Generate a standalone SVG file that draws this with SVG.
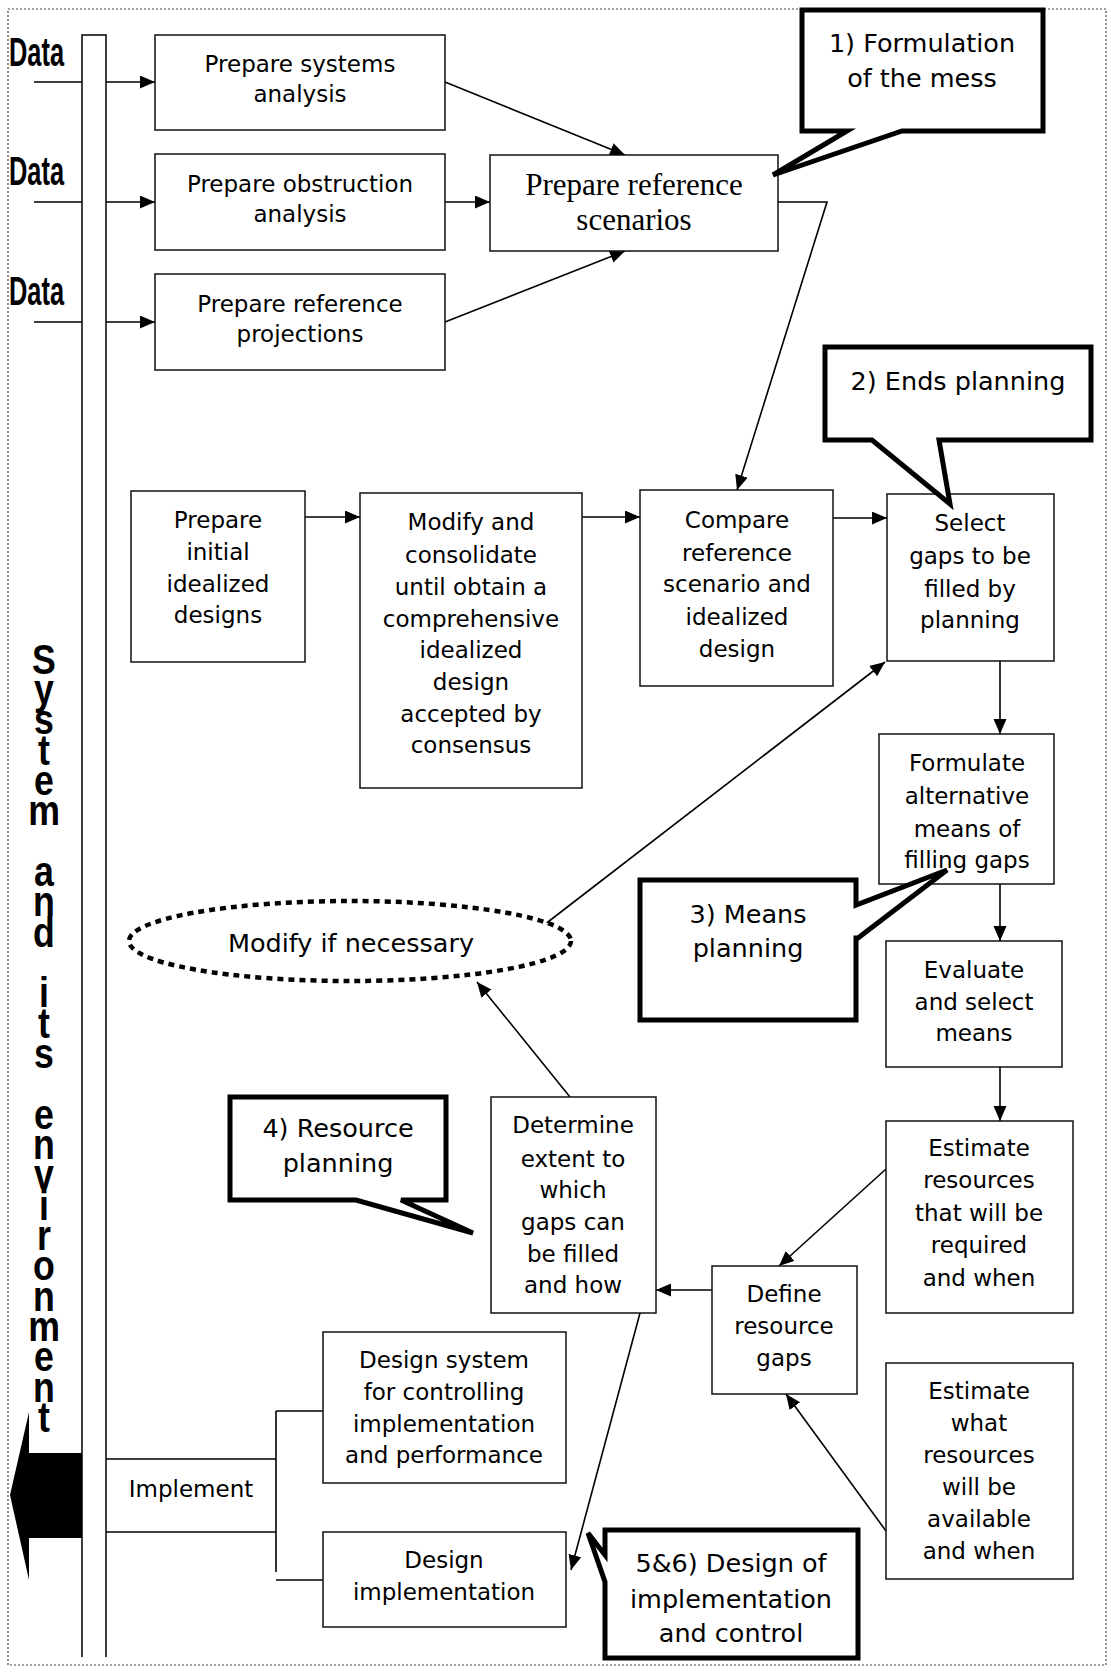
<svg xmlns="http://www.w3.org/2000/svg" width="1111" height="1673" viewBox="0 0 1111 1673">
<style>
.box{fill:#fff;stroke:#111;stroke-width:1.5}
.call{fill:#fff;stroke:#000;stroke-width:5;stroke-linejoin:miter}
.conn{stroke:#000;stroke-width:1.6;fill:none}
.t{font-family:"DejaVu Sans",Verdana,sans-serif;font-size:23px;text-anchor:middle;fill:#000}
.tc{font-size:25.5px}
.serif{font-family:"Liberation Serif","Times New Roman",serif;font-size:31px;text-anchor:middle;fill:#000}
.data{font-family:"Liberation Sans",Arial,sans-serif;font-weight:bold;font-size:41px;fill:#000}
.vert{font-family:"Liberation Sans",Arial,sans-serif;font-weight:bold;font-size:42px;fill:#000;writing-mode:vertical-rl;text-orientation:upright;letter-spacing:-16px}
</style>
<defs>
<marker id="ah" markerUnits="userSpaceOnUse" markerWidth="16" markerHeight="14" refX="15" refY="6.5" orient="auto"><path d="M0,0 L15,6.5 L0,13 z" fill="#000"/></marker>
</defs>
<rect x="0" y="0" width="1111" height="1673" fill="#fff"/>
<rect x="8" y="9" width="1098" height="1656" fill="none" stroke="#444" stroke-width="1.2" stroke-dasharray="2 2"/>

<g id="system-bar">
<path d="M82,1657 V35 H106 V1657" fill="none" stroke="#000" stroke-width="1.5"/>
<polygon points="82,1453 29,1453 29,1412 10,1495 29,1580 29,1538 82,1538" fill="#000"/>
<g transform="translate(44 0) scale(0.85 1)">
<text class="vert" x="0" y="636">System and its environment</text>
</g>
</g>

<g id="data-labels">
<text class="data" x="9" y="66" textLength="55" lengthAdjust="spacingAndGlyphs">Data</text>
<text class="data" x="9" y="185" textLength="55" lengthAdjust="spacingAndGlyphs">Data</text>
<text class="data" x="9" y="305" textLength="55" lengthAdjust="spacingAndGlyphs">Data</text>
</g>

<g id="connectors">
<line class="conn" x1="34" y1="82" x2="82" y2="82"/>
<line class="conn" x1="106" y1="82" x2="155" y2="82" marker-end="url(#ah)"/>
<line class="conn" x1="34" y1="202" x2="82" y2="202"/>
<line class="conn" x1="106" y1="202" x2="155" y2="202" marker-end="url(#ah)"/>
<line class="conn" x1="34" y1="322" x2="82" y2="322"/>
<line class="conn" x1="106" y1="322" x2="155" y2="322" marker-end="url(#ah)"/>
<line class="conn" x1="445" y1="82" x2="625" y2="155" marker-end="url(#ah)"/>
<line class="conn" x1="445" y1="202" x2="490" y2="202" marker-end="url(#ah)"/>
<line class="conn" x1="445" y1="322" x2="625" y2="251" marker-end="url(#ah)"/>
<polyline class="conn" points="778,202 827,202 737,490" marker-end="url(#ah)"/>
<line class="conn" x1="305" y1="517" x2="360" y2="517" marker-end="url(#ah)"/>
<line class="conn" x1="582" y1="517" x2="640" y2="517" marker-end="url(#ah)"/>
<line class="conn" x1="833" y1="518" x2="887" y2="518" marker-end="url(#ah)"/>
<line class="conn" x1="1000" y1="661" x2="1000" y2="734" marker-end="url(#ah)"/>
<line class="conn" x1="1000" y1="884" x2="1000" y2="941" marker-end="url(#ah)"/>
<line class="conn" x1="1000" y1="1067" x2="1000" y2="1121" marker-end="url(#ah)"/>
<line class="conn" x1="886" y1="1169" x2="779" y2="1266" marker-end="url(#ah)"/>
<line class="conn" x1="886" y1="1531" x2="786" y2="1394" marker-end="url(#ah)"/>
<line class="conn" x1="712" y1="1290" x2="656" y2="1290" marker-end="url(#ah)"/>
<line class="conn" x1="570" y1="1097" x2="477" y2="982" marker-end="url(#ah)"/>
<line class="conn" x1="544" y1="925" x2="885" y2="662" marker-end="url(#ah)"/>
<line class="conn" x1="640" y1="1313" x2="571" y2="1570" marker-end="url(#ah)"/>
<line class="conn" x1="106" y1="1459" x2="276" y2="1459"/>
<line class="conn" x1="106" y1="1532" x2="276" y2="1532"/>
<line class="conn" x1="276" y1="1411" x2="276" y2="1572"/>
<line class="conn" x1="276" y1="1411" x2="323" y2="1411"/>
<line class="conn" x1="276" y1="1580" x2="323" y2="1580"/>
</g>

<g id="prepare-systems-analysis">
<rect class="box" x="155" y="35" width="290" height="95"/>
<text class="t" x="300" y="72">Prepare systems</text>
<text class="t" x="300" y="102">analysis</text>
</g>
<g id="prepare-obstruction-analysis">
<rect class="box" x="155" y="154" width="290" height="96"/>
<text class="t" x="300" y="192">Prepare obstruction</text>
<text class="t" x="300" y="222">analysis</text>
</g>
<g id="prepare-reference-projections">
<rect class="box" x="155" y="274" width="290" height="96"/>
<text class="t" x="300" y="312">Prepare reference</text>
<text class="t" x="300" y="342">projections</text>
</g>
<g id="prepare-reference-scenarios">
<rect class="box" x="490" y="155" width="288" height="96"/>
<text class="serif" x="634" y="195">Prepare reference</text>
<text class="serif" x="634" y="230">scenarios</text>
</g>
<g id="prepare-initial">
<rect class="box" x="131" y="491" width="174" height="171"/>
<text class="t" x="218" y="528">Prepare</text>
<text class="t" x="218" y="560">initial</text>
<text class="t" x="218" y="592">idealized</text>
<text class="t" x="218" y="623">designs</text>
</g>
<g id="modify-consolidate">
<rect class="box" x="360" y="493" width="222" height="295"/>
<text class="t" x="471" y="530">Modify and</text>
<text class="t" x="471" y="563">consolidate</text>
<text class="t" x="471" y="595">until obtain a</text>
<text class="t" x="471" y="627">comprehensive</text>
<text class="t" x="471" y="658">idealized</text>
<text class="t" x="471" y="690">design</text>
<text class="t" x="471" y="722">accepted by</text>
<text class="t" x="471" y="753">consensus</text>
</g>
<g id="compare">
<rect class="box" x="640" y="490" width="193" height="196"/>
<text class="t" x="737" y="528">Compare</text>
<text class="t" x="737" y="561">reference</text>
<text class="t" x="737" y="592">scenario and</text>
<text class="t" x="737" y="625">idealized</text>
<text class="t" x="737" y="657">design</text>
</g>
<g id="select-gaps">
<rect class="box" x="887" y="494" width="167" height="167"/>
<text class="t" x="970" y="531">Select</text>
<text class="t" x="970" y="564">gaps to be</text>
<text class="t" x="970" y="597">filled by</text>
<text class="t" x="970" y="628">planning</text>
</g>
<g id="formulate">
<rect class="box" x="879" y="734" width="175" height="150"/>
<text class="t" x="967" y="771">Formulate</text>
<text class="t" x="967" y="804">alternative</text>
<text class="t" x="967" y="837">means of</text>
<text class="t" x="967" y="868">filling gaps</text>
</g>
<g id="evaluate">
<rect class="box" x="886" y="941" width="176" height="126"/>
<text class="t" x="974" y="978">Evaluate</text>
<text class="t" x="974" y="1010">and select</text>
<text class="t" x="974" y="1041">means</text>
</g>
<g id="estimate-required">
<rect class="box" x="886" y="1121" width="187" height="192"/>
<text class="t" x="979" y="1156">Estimate</text>
<text class="t" x="979" y="1188">resources</text>
<text class="t" x="979" y="1221">that will be</text>
<text class="t" x="979" y="1253">required</text>
<text class="t" x="979" y="1286">and when</text>
</g>
<g id="estimate-available">
<rect class="box" x="886" y="1363" width="187" height="216"/>
<text class="t" x="979" y="1399">Estimate</text>
<text class="t" x="979" y="1431">what</text>
<text class="t" x="979" y="1463">resources</text>
<text class="t" x="979" y="1495">will be</text>
<text class="t" x="979" y="1527">available</text>
<text class="t" x="979" y="1559">and when</text>
</g>
<g id="define-gaps">
<rect class="box" x="712" y="1266" width="145" height="128"/>
<text class="t" x="784" y="1302">Define</text>
<text class="t" x="784" y="1334">resource</text>
<text class="t" x="784" y="1366">gaps</text>
</g>
<g id="determine">
<rect class="box" x="491" y="1097" width="165" height="216"/>
<text class="t" x="573" y="1133">Determine</text>
<text class="t" x="573" y="1167">extent to</text>
<text class="t" x="573" y="1198">which</text>
<text class="t" x="573" y="1230">gaps can</text>
<text class="t" x="573" y="1262">be filled</text>
<text class="t" x="573" y="1293">and how</text>
</g>
<g id="design-system">
<rect class="box" x="323" y="1332" width="243" height="151"/>
<text class="t" x="444" y="1368">Design system</text>
<text class="t" x="444" y="1400">for controlling</text>
<text class="t" x="444" y="1432">implementation</text>
<text class="t" x="444" y="1463">and performance</text>
</g>
<g id="design-implementation">
<rect class="box" x="323" y="1532" width="243" height="95"/>
<text class="t" x="444" y="1568">Design</text>
<text class="t" x="444" y="1600">implementation</text>
</g>
<g id="implement">
<text class="t" x="191" y="1497">Implement</text>
</g>
<g id="modify-if-necessary">
<ellipse cx="350" cy="941" rx="221" ry="40" fill="#fff" stroke="#000" stroke-width="4.5" stroke-dasharray="6 5"/>
<text class="t tc" x="351" y="952">Modify if necessary</text>
</g>

<g id="callout-1">
<polygon class="call" points="802,10 1043,10 1043,131 902,131 773,175 847,131 802,131"/>
<text class="t tc" x="922" y="52">1) Formulation</text>
<text class="t tc" x="922" y="87">of the mess</text>
</g>
<g id="callout-2">
<polygon class="call" points="825,347 1091,347 1091,440 939,440 950,504 872,440 825,440"/>
<text class="t tc" x="958" y="390">2) Ends planning</text>
</g>
<g id="callout-3">
<polygon class="call" points="640,880 856,880 856,905 947,870 858,938 856,938 856,1020 640,1020"/>
<text class="t tc" x="748" y="923">3) Means</text>
<text class="t tc" x="748" y="957">planning</text>
</g>
<g id="callout-4">
<polygon class="call" points="230,1097 446,1097 446,1200 401,1200 473,1233 356,1200 230,1200"/>
<text class="t tc" x="338" y="1137">4) Resource</text>
<text class="t tc" x="338" y="1172">planning</text>
</g>
<g id="callout-56">
<polygon class="call" points="605,1530 858,1530 858,1658 605,1658 605,1582 588,1533 605,1555"/>
<text class="t tc" x="731" y="1572">5&amp;6) Design of</text>
<text class="t tc" x="731" y="1608">implementation</text>
<text class="t tc" x="731" y="1642">and control</text>
</g>
</svg>
